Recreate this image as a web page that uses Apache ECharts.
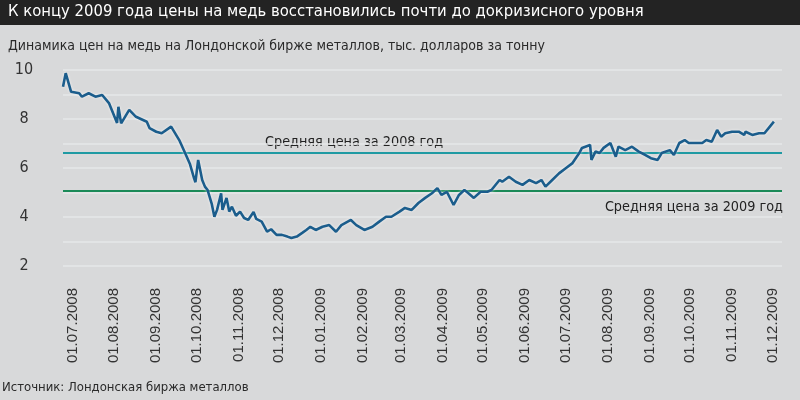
<!DOCTYPE html>
<html><head><meta charset="utf-8">
<script src="https://cdn.jsdelivr.net/npm/echarts@6/dist/echarts.min.js"></script>
<style>html,body{margin:0;padding:0;background:#d8d9da}#c{width:800px;height:400px}</style>
</head><body><div id="c"></div>
<script>
const titleText = 'К концу 2009 года цены на медь восстановились почти до докризисного уровня';
const subtitleText = 'Динамика цен на медь на Лондонской бирже металлов, тыс. долларов за тонну';
const sourceText = 'Источник: Лондонская биржа металлов';
const label2008 = 'Средняя цена за 2008 год';
const label2009 = 'Средняя цена за 2009 год';
const avg2008 = 6.62;
const avg2009 = 5.07;
const yTicks = [2, 4, 6, 8, 10];
const monthTicks = ['2008-07-01','2008-08-01','2008-09-01','2008-10-01','2008-11-01','2008-12-01',
  '2009-01-01','2009-02-01','2009-03-01','2009-04-01','2009-05-01','2009-06-01','2009-07-01',
  '2009-08-01','2009-09-01','2009-10-01','2009-11-01','2009-12-01'];
const dates = ['2008-06-24','2008-06-26','2008-06-30','2008-07-06','2008-07-08','2008-07-13','2008-07-18','2008-07-23','2008-07-28',
 '2008-08-03','2008-08-04','2008-08-06','2008-08-12','2008-08-17','2008-08-25','2008-08-27',
 '2008-09-01','2008-09-05','2008-09-12','2008-09-18','2008-09-22','2008-09-26','2008-09-29','2008-09-30',
 '2008-10-02','2008-10-05','2008-10-07','2008-10-09','2008-10-12','2008-10-14','2008-10-16','2008-10-19','2008-10-20','2008-10-23','2008-10-25','2008-10-27','2008-10-30',
 '2008-11-02','2008-11-05','2008-11-08','2008-11-12','2008-11-14','2008-11-18','2008-11-22','2008-11-25','2008-11-29',
 '2008-12-03','2008-12-07','2008-12-10','2008-12-14','2008-12-18','2008-12-21','2008-12-24','2008-12-28',
 '2009-01-02','2009-01-07','2009-01-12','2009-01-16','2009-01-23','2009-01-27',
 '2009-02-02','2009-02-08','2009-02-13','2009-02-18','2009-02-22','2009-02-28',
 '2009-03-04','2009-03-09','2009-03-14','2009-03-19','2009-03-24','2009-03-28','2009-03-31',
 '2009-04-04','2009-04-09','2009-04-13','2009-04-17','2009-04-20','2009-04-24','2009-04-29',
 '2009-05-04','2009-05-07','2009-05-13','2009-05-15','2009-05-20','2009-05-25','2009-05-30',
 '2009-06-04','2009-06-09','2009-06-13','2009-06-16','2009-06-21','2009-06-26',
 '2009-07-01','2009-07-06','2009-07-11','2009-07-13','2009-07-19','2009-07-20','2009-07-23','2009-07-26','2009-07-29',
 '2009-08-03','2009-08-07','2009-08-09','2009-08-14','2009-08-19','2009-08-24','2009-08-29',
 '2009-09-02','2009-09-07','2009-09-10','2009-09-16','2009-09-19','2009-09-23','2009-09-27','2009-09-30',
 '2009-10-05','2009-10-10','2009-10-13','2009-10-17','2009-10-21','2009-10-24','2009-10-27',
 '2009-11-01','2009-11-06','2009-11-10','2009-11-11','2009-11-16','2009-11-21','2009-11-25','2009-11-29',
 '2009-12-02'];
const prices = [9.32,9.87,9.11,9.05,8.91,9.05,8.91,8.98,8.65,
 7.84,8.50,7.82,8.37,8.09,7.89,7.63,
 7.48,7.42,7.69,7.14,6.65,6.15,5.58,5.42,
 6.33,5.51,5.24,5.10,4.55,4.01,4.29,4.97,4.29,4.78,4.22,4.42,4.05,
 4.22,3.96,3.88,4.20,3.92,3.81,3.40,3.50,3.27,
 3.27,3.20,3.14,3.20,3.35,3.47,3.60,3.47,
 3.60,3.67,3.40,3.67,3.88,3.67,
 3.47,3.60,3.81,4.01,4.01,4.22,
 4.37,4.29,4.57,4.78,4.97,5.18,4.90,
 5.03,4.49,4.90,5.10,4.97,4.78,5.03,
 5.03,5.10,5.51,5.44,5.64,5.44,5.31,
 5.51,5.38,5.51,5.24,5.51,5.78,
 5.99,6.20,6.61,6.82,6.94,6.33,6.67,6.61,6.82,
 7.02,6.46,6.87,6.73,6.87,6.67,6.53,
 6.40,6.33,6.61,6.73,6.53,7.02,7.14,7.02,
 7.02,7.02,7.14,7.07,7.55,7.28,7.42,
 7.48,7.48,7.35,7.48,7.35,7.42,7.42,7.69,
 7.89];

function ts(s){const p=s.split('-');return Date.UTC(+p[0],+p[1]-1,+p[2]);}
function fmt(v){const d=new Date(v);const dd=String(d.getUTCDate()).padStart(2,'0');const mm=String(d.getUTCMonth()+1).padStart(2,'0');return dd+'.'+mm+'.'+d.getUTCFullYear();}
const NARROW='"DejaVu Sans Condensed","Liberation Sans Narrow",sans-serif';
const REG='"Liberation Sans",Arial,sans-serif';

const chart = echarts.init(document.getElementById('c'), null, {renderer:'canvas'});
chart.setOption({
  backgroundColor:'#d8d9da',
  animation:false,
  graphic:[
    {type:'rect', left:0, top:0, shape:{width:800,height:25}, style:{fill:'#232323'}, silent:true},
    {type:'text', left:8, top:3, style:{text:titleText, fill:'#ffffff', font:'16.5px '+NARROW}},
    {type:'text', left:8, top:39, style:{text:subtitleText, fill:'#2a2a2a', font:'14px '+NARROW}},
    {type:'text', left:2, top:381, style:{text:sourceText, fill:'#2a2a2a', font:'13px '+NARROW}},
    {type:'text', left:265, top:135, style:{text:label2008, fill:'#222', font:'14.3px '+NARROW}},
    {type:'text', right:17, top:200, style:{text:label2009, fill:'#222', font:'14.3px '+NARROW}}
  ],
  grid:{left:63, right:18, top:70, bottom:134},
  xAxis:{type:'value', min:ts('2008-06-24'), max:ts('2009-12-08'),
    axisLine:{show:false}, axisTick:{show:false}, splitLine:{show:false},
    axisLabel:{customValues:monthTicks.map(ts), rotate:90, margin:22, formatter:fmt,
      fontFamily:REG, fontSize:15, color:'#333', hideOverlap:false, showMinLabel:true, showMaxLabel:true}},
  yAxis:{type:'value', min:2, max:10, interval:1,
    axisLine:{show:false}, axisTick:{show:false},
    splitLine:{lineStyle:{color:'#e6e7e8', width:1.5}},
    axisLabel:{customValues:yTicks, align:'center', margin:39, fontFamily:NARROW, fontSize:16, color:'#333'}},
  series:[{
    type:'line', showSymbol:false, silent:true,
    data:dates.map((d,i)=>[ts(d),prices[i]]),
    lineStyle:{color:'#1b5d8c', width:2.6, shadowColor:'rgba(255,255,255,0.7)', shadowBlur:3},
    z:5,
    markLine:{silent:true, symbol:'none', animation:false,
      data:[
        {yAxis:avg2008, lineStyle:{color:'#1f9aa3', width:2, type:'solid'}, label:{show:false}},
        {yAxis:avg2009, lineStyle:{color:'#1b8a58', width:2, type:'solid'}, label:{show:false}}
      ]}
  }]
});
</script></body></html>
